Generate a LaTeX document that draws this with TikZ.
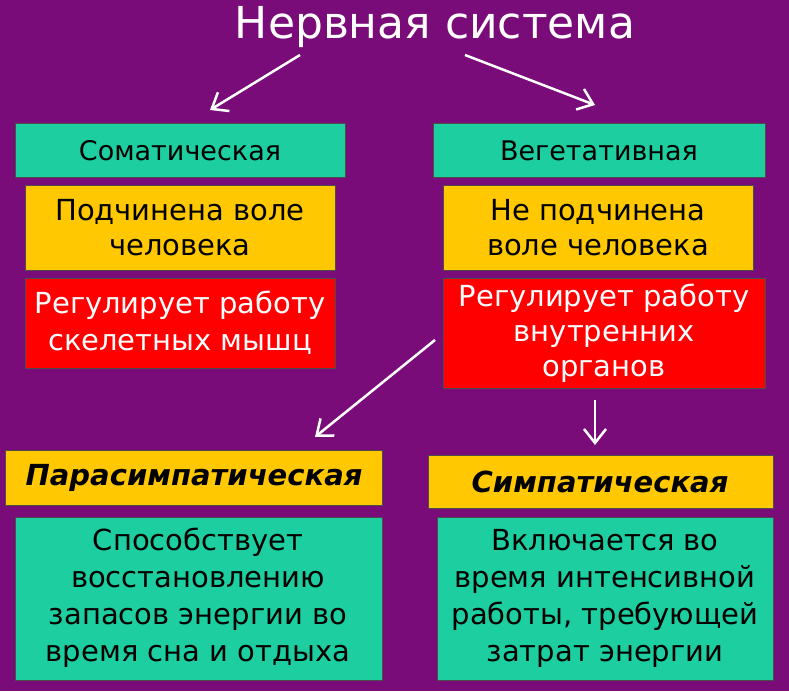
\documentclass[tikz,border=0pt]{standalone}
\usepackage{fontspec}
\setmainfont{DejaVu Sans}
\begin{document}
\begin{tikzpicture}[x=1pt,y=-1pt]
\definecolor{bg}{RGB}{122,12,122}
\definecolor{tl}{RGB}{28,206,160}
\definecolor{yl}{RGB}{255,200,0}
\definecolor{rd}{RGB}{255,0,0}
\tikzset{
 bx/.style={draw=black!70,line width=0.6pt},
 arr/.style={white,line width=2.5pt,->,>={Straight Barb[length=14pt,width=22pt]}}
}
\usetikzlibrary{arrows.meta}
\fill[bg] (0,0) rectangle (789,691);
\useasboundingbox (0,0) rectangle (789,691);
\node[white,font=\fontsize{44}{50}\selectfont] (t) at (435,27) {Нервная система};
\path[bx,fill=tl] (15,123) rectangle (345,177);
\node[font=\fontsize{27}{32}\selectfont] (s) at (180,151) {Соматическая};
\path[bx,fill=tl] (433,123) rectangle (765,177);
\node[font=\fontsize{27}{32}\selectfont] (v) at (599,151) {Вегетативная};
\path[bx,fill=yl] (25,185) rectangle (335,270);
\node[align=center,font=\fontsize{29}{35}\selectfont] (y1) at (180,228) {Подчинена воле\\человека};
\path[bx,fill=yl] (443,185) rectangle (753,270);
\node[align=center,font=\fontsize{29}{35}\selectfont] (y2) at (598,228) {Не подчинена\\воле человека};
\path[bx,fill=rd] (25,278) rectangle (335,368);
\node[white,align=center,font=\fontsize{29}{37}\selectfont] (r1) at (180,323) {Регулирует работу\\скелетных мышц};
\path[bx,fill=rd] (443,278) rectangle (765,388);
\node[white,align=center,font=\fontsize{29}{35}\selectfont] (r2) at (604,333) {Регулирует работу\\внутренних\\органов};
\path[bx,fill=yl] (5,450) rectangle (382,505);
\node[font=\bfseries\itshape\fontsize{29}{32}\selectfont] (p) at (194,478) {Парасимпатическая};
\path[bx,fill=yl] (428,455) rectangle (773,508);
\node[font=\bfseries\itshape\fontsize{29}{32}\selectfont] (c) at (600,482) {Симпатическая};
\path[bx,fill=tl] (15,517) rectangle (382,680);
\node[align=center,font=\fontsize{29}{37}\selectfont] (p2) at (198,598) {Способствует\\восстановлению\\запасов энергии во\\время сна и отдыха};
\path[bx,fill=tl] (437,517) rectangle (773,680);
\node[align=center,font=\fontsize{29}{37}\selectfont] (c2) at (605,598) {Включается во\\время интенсивной\\работы, требующей\\затрат энергии};
\coordinate (a1) at (300,55); \coordinate (a1e) at (210,110);
\coordinate (a2) at (465,55); \coordinate (a2e) at (595,105);
\coordinate (a3) at (435,340); \coordinate (a3e) at (315,437);
\coordinate (a4) at (595,400); \coordinate (a4e) at (595,445);
\draw[arr] (a1) -- (a1e);
\draw[arr] (a2) -- (a2e);
\draw[arr] (a3) -- (a3e);
\draw[arr] (a4) -- (a4e);
\end{tikzpicture}
\end{document}
